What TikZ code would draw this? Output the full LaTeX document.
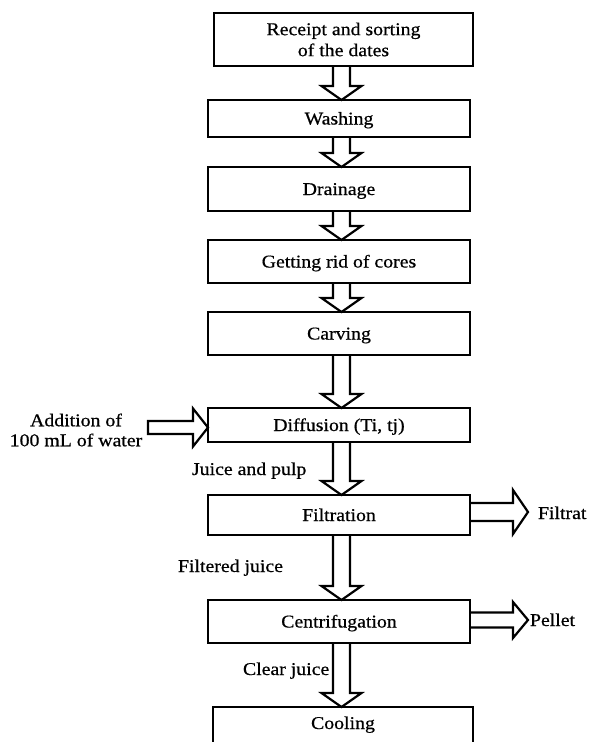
\documentclass[tikz,border=0pt]{standalone}
\usepackage{fontspec}
\setmainfont[FakeStretch=1.1,FakeBold=0.6]{Liberation Serif}
\usetikzlibrary{calc}
\tikzset{
  box/.style={draw, line width=2.4pt, outer sep=0pt, inner sep=0pt, fill=white,
    font=\fontsize{18}{21}\selectfont, text height=12pt, text depth=0pt, align=center},
  bigbox/.style={draw, line width=2.4pt, outer sep=0pt, inner sep=0pt,
    font=\fontsize{18}{21}\selectfont, align=center},
  lbl/.style={inner sep=0pt, outer sep=0pt, font=\fontsize{18}{20}\selectfont},
  blk/.style={draw, line width=2.2pt, line join=miter},
}
\newcommand\AX{341.5}
\newcommand\varrow[2]{%
  \draw[blk] let \p1=(#1.south), \p2=(#2.north) in
    (\AX-8.5,\y1) -- (\AX-8.5,\y2+14) -- (\AX-20,\y2+14) -- (\AX,\y2)
    -- (\AX+20,\y2+14) -- (\AX+8.5,\y2+14) -- (\AX+8.5,\y1);}
\begin{document}
\begin{tikzpicture}[x=1pt,y=1pt]
\useasboundingbox (0,0) rectangle (589,-742);
\clip (0,0) rectangle (589,-742);
\fill[white] (0,0) rectangle (589,-742);

% boxes
\node[bigbox, minimum width=259pt, minimum height=53pt] (B1) at (343.5,-39.5)
  {Receipt and sorting\\of the dates};
\node[box, minimum width=262pt, minimum height=37pt] (B2) at (339,-118.5) {Washing};
\node[box, minimum width=262pt, minimum height=44pt] (B3) at (339,-189) {Drainage};
\node[box, minimum width=262pt, minimum height=43pt] (B4) at (339,-261.5) {Getting rid of cores};
\node[box, minimum width=262pt, minimum height=43pt] (B5) at (339,-333.5) {Carving};
\node[box, minimum width=262pt, minimum height=34pt] (B6) at (339,-425) {Diffusion (Ti, tj)};
\node[box, minimum width=262pt, minimum height=40pt] (B7) at (339,-515) {Filtration};
\node[box, minimum width=262pt, minimum height=43pt] (B8) at (339,-621.5) {Centrifugation};
\node[box, minimum width=260pt, minimum height=66pt] (B9) at (343,-740) {};
\node[lbl, anchor=base] (cool) at (343,-729) {Cooling};

% labels
\node[lbl, align=center] (add) at (76,-430) {Addition of\\100 mL of water};
\node[lbl, anchor=base west] (jp) at (192,-475) {Juice and pulp};
\node[lbl, anchor=base west] (fj) at (178,-572) {Filtered juice};
\node[lbl, anchor=base west] (cj) at (243,-675) {Clear juice};
\node[lbl, anchor=base west] (filt) at (538,-519) {Filtrat};
\node[lbl, anchor=base west] (pel) at (530,-626) {Pellet};

% vertical block arrows
\varrow{B1}{B2}
\varrow{B2}{B3}
\varrow{B3}{B4}
\varrow{B4}{B5}
\varrow{B5}{B6}
\varrow{B6}{B7}
\varrow{B7}{B8}
\varrow{B8}{B9}

% left arrow into diffusion
\coordinate (ls) at (148,-427.5);
\draw[blk] let \p1=(ls), \p2=(B6.west) in
  (\x1,\y1+6.5) -- (\x2-15,\y1+6.5) -- (\x2-15,\y1+19) -- (\x2,\y1)
  -- (\x2-15,\y1-19) -- (\x2-15,\y1-6.5) -- (\x1,\y1-6.5) -- cycle;

% right arrows
\coordinate (fe) at (528,-512);
\draw[blk] let \p1=(B7.east), \p2=(fe) in
  (\x1,\y2+9) -- (\x2-15,\y2+9) -- (\x2-15,\y2+22) -- (\x2,\y2)
  -- (\x2-15,\y2-22) -- (\x2-15,\y2-9) -- (\x1,\y2-9);
\coordinate (pe) at (528,-620);
\draw[blk] let \p1=(B8.east), \p2=(pe) in
  (\x1,\y2+7.5) -- (\x2-15,\y2+7.5) -- (\x2-15,\y2+18) -- (\x2,\y2)
  -- (\x2-15,\y2-18) -- (\x2-15,\y2-7.5) -- (\x1,\y2-7.5);
\end{tikzpicture}
\end{document}
